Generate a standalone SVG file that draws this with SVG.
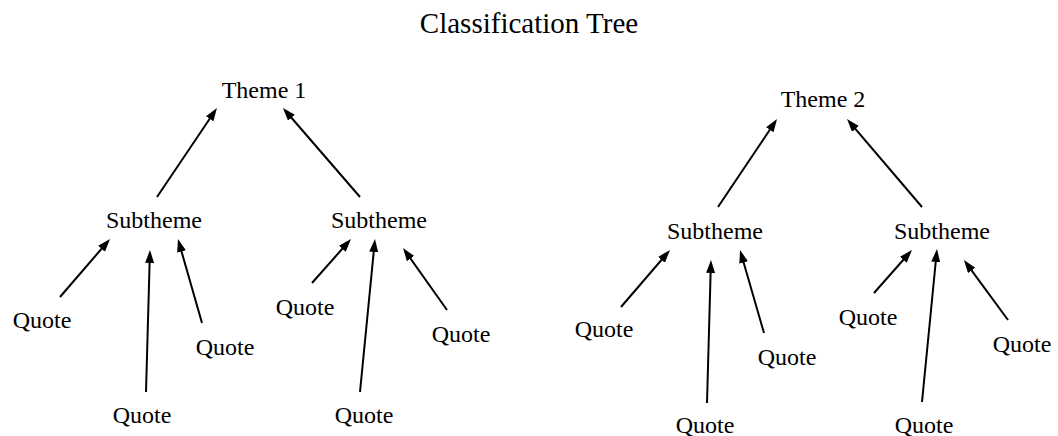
<svg xmlns="http://www.w3.org/2000/svg" width="1058" height="436" viewBox="0 0 1058 436">
  <style>
    .lbl { font-family: "Liberation Serif", "Times New Roman", serif; font-size: 24px; fill: #000; text-anchor: middle; }
    .title { font-family: "Liberation Serif", "Times New Roman", serif; font-size: 29px; fill: #000; text-anchor: middle; }
    .edge { stroke: #000; stroke-width: 2; fill: none; marker-end: url(#arrow); }
  </style>
  <defs>
    <!-- filled arrowhead; the tip sits 6px past the line end -->
    <marker id="arrow" markerUnits="userSpaceOnUse" markerWidth="13" markerHeight="10" refX="7" refY="4.5" orient="auto">
      <path d="M0,0 L13,4.5 L0,9 z" fill="#000"/>
    </marker>
  </defs>
  <rect width="1058" height="436" fill="#fff"/>

  <text class="title" x="529" y="33">Classification Tree</text>

  <!-- tree 1 -->
  <g id="theme1"><text class="lbl" x="264" y="98">Theme 1</text></g>
  <g id="sub1a"><text class="lbl" x="154" y="228">Subtheme</text></g>
  <g id="sub1b"><text class="lbl" x="379" y="228">Subtheme</text></g>
  <g id="q1a"><text class="lbl" x="42" y="328">Quote</text></g>
  <g id="q1b"><text class="lbl" x="142" y="423">Quote</text></g>
  <g id="q1c"><text class="lbl" x="225" y="355">Quote</text></g>
  <g id="q1d"><text class="lbl" x="305" y="315">Quote</text></g>
  <g id="q1e"><text class="lbl" x="364" y="423">Quote</text></g>
  <g id="q1f"><text class="lbl" x="461" y="342">Quote</text></g>

  <!-- tree 2 -->
  <g id="theme2"><text class="lbl" x="823" y="107">Theme 2</text></g>
  <g id="sub2a"><text class="lbl" x="715" y="239">Subtheme</text></g>
  <g id="sub2b"><text class="lbl" x="942" y="239">Subtheme</text></g>
  <g id="q2a"><text class="lbl" x="604" y="337">Quote</text></g>
  <g id="q2b"><text class="lbl" x="705" y="433">Quote</text></g>
  <g id="q2c"><text class="lbl" x="787" y="365">Quote</text></g>
  <g id="q2d"><text class="lbl" x="868" y="325">Quote</text></g>
  <g id="q2e"><text class="lbl" x="924" y="433">Quote</text></g>
  <g id="q2f"><text class="lbl" x="1022" y="352">Quote</text></g>

  <g id="connectors">
    <line class="edge" x1="157" y1="197" x2="213.6" y2="113"/>
    <line class="edge" x1="360" y1="197" x2="286.9" y2="112.5"/>
    <line class="edge" x1="60" y1="297" x2="106.1" y2="243.5"/>
    <line class="edge" x1="146" y1="392" x2="149.8" y2="256"/>
    <line class="edge" x1="202" y1="323" x2="179.6" y2="244.8"/>
    <line class="edge" x1="312" y1="283" x2="347" y2="243.5"/>
    <line class="edge" x1="360" y1="392" x2="374.4" y2="245"/>
    <line class="edge" x1="447" y1="310" x2="406.5" y2="252.9"/>

    <line class="edge" x1="718" y1="207" x2="773.7" y2="124"/>
    <line class="edge" x1="922" y1="207" x2="850.9" y2="123.6"/>
    <line class="edge" x1="621" y1="307" x2="666.1" y2="254.5"/>
    <line class="edge" x1="707" y1="403" x2="710.8" y2="266"/>
    <line class="edge" x1="764" y1="333" x2="741.7" y2="255.8"/>
    <line class="edge" x1="874" y1="293" x2="908" y2="254.5"/>
    <line class="edge" x1="922" y1="402" x2="936.4" y2="255"/>
    <line class="edge" x1="1008" y1="320" x2="967.5" y2="264.8"/>
  </g>
</svg>
